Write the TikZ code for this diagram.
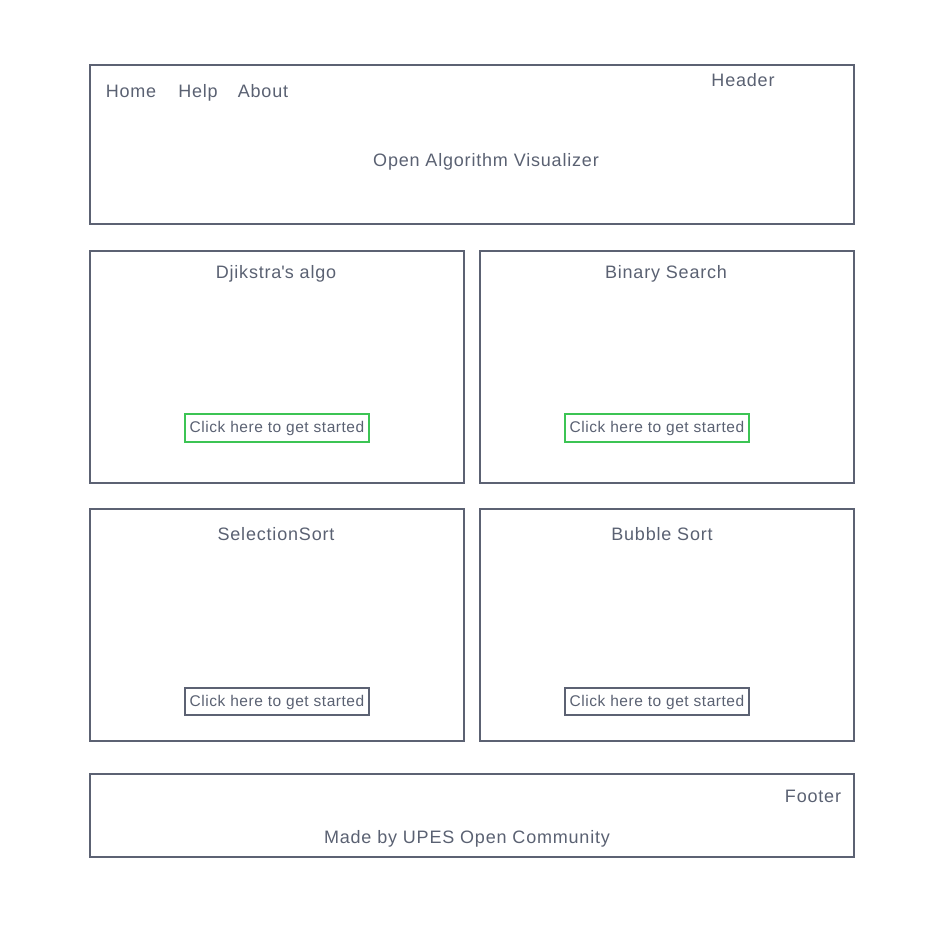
\documentclass[tikz,border=0pt]{standalone}
\usepackage{fontspec}
\setmainfont{Liberation Sans}[LetterSpace=4.5]
\usetikzlibrary{positioning}
\definecolor{frame}{HTML}{5C6273}
\definecolor{ink}{HTML}{5A6172}
\definecolor{go}{HTML}{3CC454}
\tikzstyle{panel} = [rectangle, draw=frame, line width=2.8pt, inner sep=0pt]
\tikzstyle{card} = [panel, minimum width=374pt, minimum height=232pt]
\tikzstyle{button} = [rectangle, line width=2.6pt, inner sep=0pt, minimum width=184pt, minimum height=27pt]
\tikzstyle{label} = [text=ink, inner sep=0pt, anchor=base, font=\fontsize{18}{21}\selectfont]
\tikzstyle{small} = [label, font=\addfontfeatures{LetterSpace=3.5}\fontsize{15.5}{18}\selectfont]

\begin{document}
\begin{tikzpicture}[x=1pt,y=-1pt]
            \useasboundingbox (0,0) rectangle (950,940);
            \node (header) [panel, minimum width=764pt, minimum height=159pt] at (472,144.5) {};
            \node (home) [label] at (131,97) {Home};
            \node (help) [label] at (198,97) {Help};
            \node (about) [label] at (263,97) {About};
            \node (headertag) [label] at (743,86) {Header};
            \node (title) [label] at (486,166) {Open Algorithm Visualizer};
            % cards
            \node (dijkstra) [card] at (277,367) {};
            \node (binary) [card] at (667,367) {};
            \node (selection) [card] at (277,625) {};
            \node (bubble) [card] at (667,625) {};
            \node (dijkstratitle) [label] at (276,278) {Djikstra\textquotesingle s algo};
            \node (binarytitle) [label] at (666,278) {Binary Search};
            \node (selectiontitle) [label] at (276,540) {SelectionSort};
            \node (bubbletitle) [label] at (662,540) {Bubble Sort};
            \node (dijkstrago) [button, draw=go, minimum height=28pt] at (277,428) {};
            \node (binarygo) [button, draw=go, minimum height=28pt] at (657,428) {};
            \node (selectiongo) [button, draw=frame] at (277,701.5) {};
            \node (bubblego) [button, draw=frame] at (657,701.5) {};
            \node [small] at (277,432.5) {Click here to get started};
            \node [small] at (657,432.5) {Click here to get started};
            \node [small] at (277,706) {Click here to get started};
            \node [small] at (657,706) {Click here to get started};
            % footer
            \node (footer) [panel, minimum width=764pt, minimum height=83pt] at (472,815.5) {};
            \node (footertag) [label] at (813,802) {Footer};
            \node (credit) [label] at (467,843) {Made by UPES Open Community};
        \end{tikzpicture}
\end{document}
